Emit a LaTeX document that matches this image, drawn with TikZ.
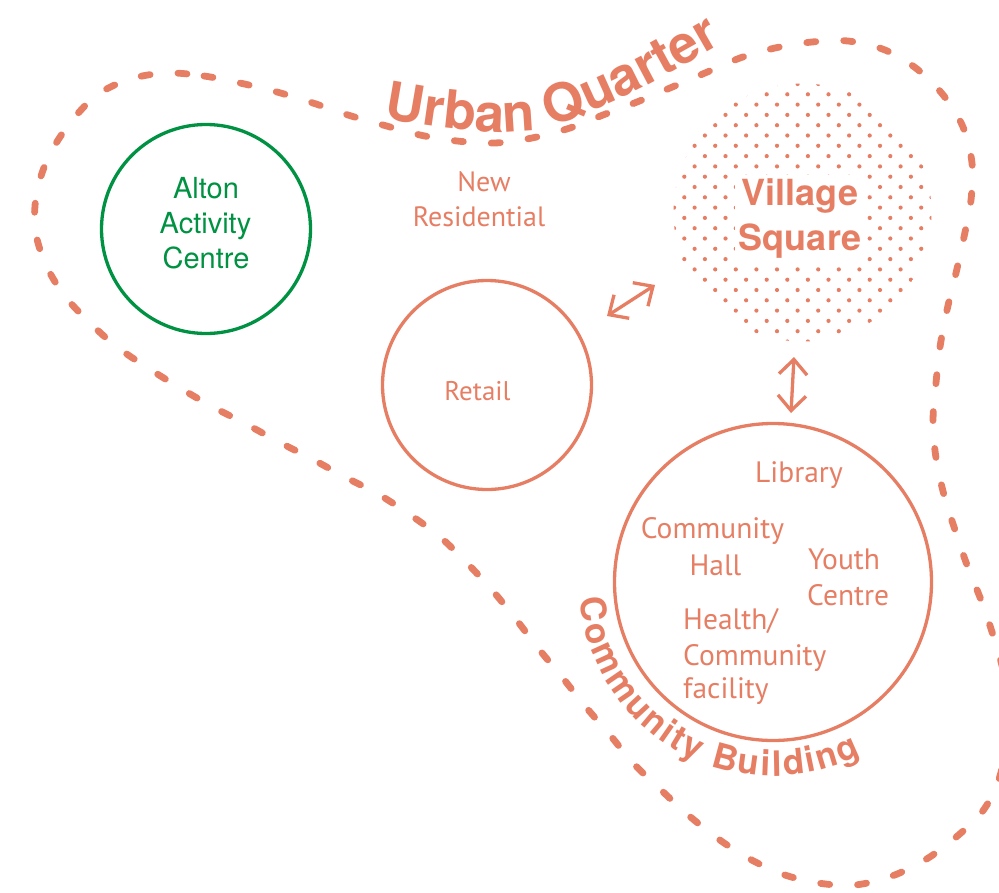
\documentclass[tikz,border=0pt]{standalone}
\usepackage{fontspec}
\setmainfont{TeX Gyre Heros}
\newfontfamily\myr{PT Sans}
\usetikzlibrary{arrows.meta,decorations.text}
\definecolor{salmon}{RGB}{230,126,100}
\definecolor{agreen}{RGB}{0,146,66}
\begin{document}
\begin{tikzpicture}[x=1pt,y=-1pt,
  ring/.style={circle, draw=salmon, line width=3.3pt, inner sep=0pt, minimum size=#1},
  gring/.style={circle, draw=agreen, line width=3.3pt, inner sep=0pt, minimum size=#1},
  lbl/.style={text=salmon, font=\myr\fontsize{28}{35}\selectfont, anchor=base, inner sep=0pt},
  clbl/.style={lbl, font=\myr\fontsize{29.5}{35}\selectfont},
  glbl/.style={text=agreen, font=\fontsize{29}{35}\selectfont, anchor=base, inner sep=0pt},
  blob/.style={draw=salmon, line width=6.8pt, line cap=round, dash pattern=on 9pt off 28pt},
  dbl/.style={draw=salmon, line width=3.3pt, {Straight Barb[length=15pt,width=28pt]}-{Straight Barb[length=15pt,width=28pt]}},
  dotc/.style={fill=salmon}]
\useasboundingbox (0,0) rectangle (999,892);
\clip (0,0) rectangle (999,892);

% dashed outline
\draw[blob] plot[smooth cycle, tension=0.55] coordinates {
 (167,73) (204,76) (240,83) (277,92) (313,103) (348,115) (383,125) (420,135)
 (457,141) (495,143) (532,138) (570,128) (603,115) (637,102) (670,88) (705,73)
 (740,58) (775,48) (812,42) (848,41) (885,50) (917,69) (944,96) (963,127)
 (972,163) (971,200) (964,237) (956,273) (947,310) (940,347) (936,383) (933,421)
 (936,458) (944,495) (955,530) (967,565) (981,600) (993,635) (1003,670) (1008,706)
 (1007,743) (998,782) (982,812) (955,838) (925,860) (892,876) (855,885) (818,883)
 (782,874) (748,858) (717,838) (687,814) (660,789) (633,763) (610,735) (585,706)
 (562,677) (538,648) (515,618) (492,590) (466,562) (439,536) (409,514) (378,494)
 (345,477) (312,459) (279,442) (246,424) (213,407) (180,388) (148,368) (117,347)
 (90,323) (64,295) (45,263) (35,228) (37,191) (49,156) (70,123) (97,95) (130,79)};

% Village square dots
\begin{scope}
\clip (802.5,212.5) circle[radius=129];
\foreach \j in {-2,...,25} {
  \pgfmathsetmacro\yy{94.3+10.3*\j}
  \pgfmathsetmacro\off{mod(\j,2)==0 ? 0 : 10.3}
  \foreach \i in {-7,...,8} {
    \fill[dotc] ({766.7+20.6*\i+\off},\yy) circle[radius=2.1];
  }
}
\end{scope}
\node[fill=white, inner sep=4pt, text=salmon, font=\bfseries\fontsize{36}{45}\selectfont, align=center] (vsq) at (800,219) {Village\\Square};

% circles
\node[gring=209pt] (alton) at (206,229) {};
\node[ring=209pt] (retail) at (487,385) {};
\node[ring=317pt] (cb) at (773,582) {};

% Alton text
\node[glbl] (al1) at (206,198) {Alton};
\node[glbl] (al2) at (205.5,233) {Activity};
\node[glbl] (al3) at (206,268) {Centre};

% other labels
\node[lbl] (nr1) at (484,191.5) {New};
\node[lbl] (nr2) at (479,226) {Residential};
\node[lbl, font=\myr\fontsize{27}{35}\selectfont] (ret) at (477.5,400) {Retail};
\node[clbl] (lib) at (799,482) {Library};
\node[clbl] (ch1) at (712.5,538) {Community};
\node[clbl] (ch2) at (715.5,575) {Hall};
\node[clbl, anchor=base west] (yc1) at (808,569) {Youth};
\node[clbl, anchor=base west] (yc2) at (807,605) {Centre};
\node[clbl, anchor=base west] (hc1) at (683,629) {Health/};
\node[clbl, anchor=base west] (hc2) at (683,665) {Community};
\node[clbl, anchor=base west] (hc3) at (683,698) {facility};

% arrows
\coordinate (a1s) at (607,316);
\coordinate (a1e) at (655,285);
\coordinate (a2s) at (794,357);
\coordinate (a2e) at (791,413);
\draw[dbl] (a1s) -- (a1e);
\draw[dbl] (a2s) -- (a2e);

% curved titles
\path[decorate, decoration={text along path, text={|\bfseries\fontsize{53}{53}\selectfont\color{salmon}|Urban Quarter}}]
  (384,118) .. controls (460,132) and (520,138) .. (560,124) .. controls (610,106) and (660,80) .. (745,30);
\path[decorate, decoration={text along path, text align={fit to path}, text={|\bfseries\fontsize{35}{35}\selectfont\color{salmon}|Community Building}}]
  (cb.center) ++(175:194) arc[start angle=175, end angle=63, radius=194];
\end{tikzpicture}
\end{document}
